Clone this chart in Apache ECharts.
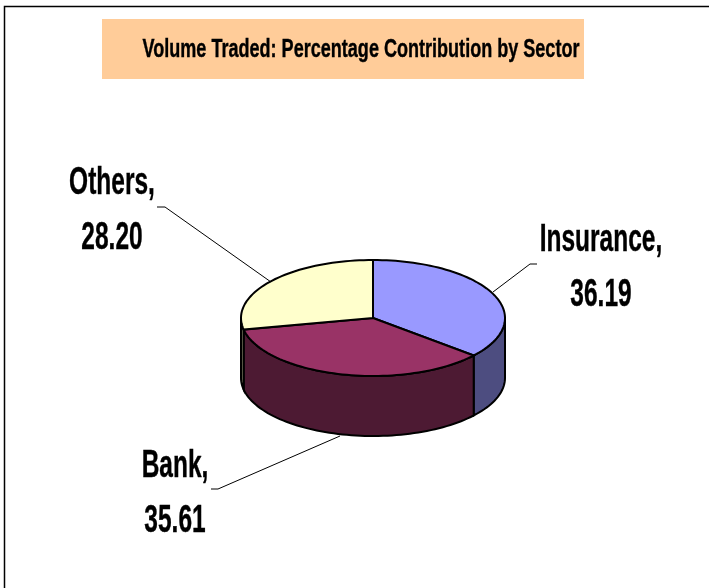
<!DOCTYPE html>
<html><head><meta charset="utf-8">
<style>html,body{margin:0;padding:0;background:#fff}#c{width:709px;height:588px}</style>
<script src="https://cdn.jsdelivr.net/npm/echarts@6/dist/echarts.min.js"></script>
</head><body><div id="c"></div>
<script>
const titleText = 'Volume Traded: Percentage Contribution by Sector';
const categories = ['Insurance', 'Bank', 'Others'];
const values = [36.19, 35.61, 28.20];
const topColors = ['#9999FF', '#993366', '#FFFFCC'];
const sideColors = ['#4D4D80', '#4D1A33', '#808066'];
const labelPos = [[601, 268], [175, 494], [112, 211]];
const leaderLines = [
  [[493, 292], [530, 264], [537, 264]],
  [[340, 436], [218, 489], [211, 489]],
  [[271, 282], [165, 207], [157, 207]]
];
const cx = 373, cy = 318, rx = 132, ry = 58, depth = 60;
const labelFont = '"Liberation Sans", sans-serif';
const total = values.reduce((a, b) => a + b, 0);
function startOf(i) { return values.slice(0, i).reduce((a, b) => a + b, 0) / total * 360; }
function pt(deg, dy) {
  const r = deg * Math.PI / 180;
  return [cx + rx * Math.sin(r), cy - ry * Math.cos(r) + (dy || 0)];
}
function arc(a1, a2, dy) {
  const out = [], n = Math.max(2, Math.ceil(Math.abs(a2 - a1) / 2));
  for (let k = 0; k <= n; k++) out.push(pt(a1 + (a2 - a1) * k / n, dy));
  return out;
}
const seriesData = values.map((v, i) => ({ name: categories[i], value: v }));
const chart = echarts.init(document.getElementById('c'));
chart.setOption({
  animation: false,
  backgroundColor: '#fff',
  graphic: [
    { type: 'polyline', shape: { points: [[4.5, 588], [4.5, 6.5], [709, 6.5]] }, style: { fill: null, stroke: '#000', lineWidth: 1.5 } },
    { type: 'rect', shape: { x: 102, y: 19, width: 482, height: 60 }, style: { fill: '#FFCC99' } },
    { type: 'text', x: 361, y: 50, scaleX: 0.722, z: 10,
      style: { x: 0, y: 0, text: titleText, align: 'center', verticalAlign: 'middle', font: 'bold 25px ' + labelFont, fill: '#000', stroke: '#000', lineWidth: 0.4 } }
  ],
  series: [
    { // pie walls
      type: 'custom', coordinateSystem: 'none', data: seriesData, z: 2, silent: true,
      renderItem(p, api) {
        const i = p.dataIndex;
        const a1 = Math.max(startOf(i), 90), a2 = Math.min(startOf(i) + api.value(0) / total * 360, 270);
        if (a2 <= a1) return { type: 'group', children: [] };
        return { type: 'polygon',
          shape: { points: arc(a1, a2, 0).concat(arc(a2, a1, depth)) },
          style: { fill: sideColors[i], stroke: '#000', lineWidth: 2 } };
      }
    },
    { // pie top faces
      type: 'custom', coordinateSystem: 'none', data: seriesData, z: 3, silent: true,
      renderItem(p, api) {
        const i = p.dataIndex;
        const a1 = startOf(i), a2 = a1 + api.value(0) / total * 360;
        return { type: 'polygon',
          shape: { points: [[cx, cy]].concat(arc(a1, a2, 0)) },
          style: { fill: topColors[i], stroke: '#000', lineWidth: 2 } };
      }
    },
    { // leaders and labels
      type: 'custom', coordinateSystem: 'none', data: seriesData, z: 4, silent: true,
      renderItem(p, api) {
        const i = p.dataIndex;
        return { type: 'group', children: [
          { type: 'polyline', shape: { points: leaderLines[i] }, style: { fill: null, stroke: '#000', lineWidth: 1 } },
          { type: 'text', x: labelPos[i][0], y: labelPos[i][1], scaleX: 0.645, style: {
              x: 0, y: 0,
              text: categories[i] + ',\n' + api.value(0).toFixed(2),
              align: 'center', verticalAlign: 'middle', lineHeight: 55,
              font: 'bold 38px ' + labelFont, fill: '#000', stroke: '#000', lineWidth: 0.4 } }
        ] };
      }
    }
  ]
});
</script></body></html>
